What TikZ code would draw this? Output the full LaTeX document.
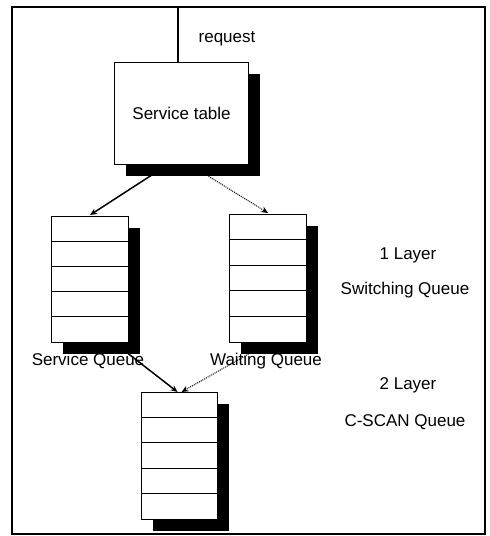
\documentclass[tikz,border=0pt]{standalone}
\usepackage{fontspec}
\setmainfont{Liberation Sans}
\usetikzlibrary{arrows.meta,shadows}
\begin{document}
\begin{tikzpicture}[x=1pt,y=-1pt,
  lbl/.style={font=\fontsize{17}{20}\selectfont, inner sep=0pt},
  box/.style={draw, fill=white, line width=1.1pt, inner sep=0pt, anchor=north west,
    font=\fontsize{17}{20}\selectfont,
    drop shadow={opacity=1, fill=black, shadow xshift=11.5pt, shadow yshift=-11.5pt}},
  conn/.style={line width=1.5pt, -{Stealth[length=7pt,width=6pt]}},
  dconn/.style={line width=1pt, densely dotted, -{Stealth[length=7pt,width=6pt]}},
  row/.style={line width=1.1pt}]
\useasboundingbox (0,0) rectangle (490,536);
% frame
\draw[line width=2pt] (12,7) rectangle (485,534);
% service table
\node[box, minimum width=134pt, minimum height=102pt] (st) at (114,62) {Service table};
\coordinate (rq) at (178,7);
\draw[line width=1.1pt] (rq) -- (rq |- st.north);
\node[lbl] (req) at (227,39) {request};
% queues
\node[box, minimum width=77pt, minimum height=126pt] (sq) at (51,216) {};
\node[box, minimum width=77pt, minimum height=128pt] (wq) at (229,214) {};
\node[box, minimum width=76pt, minimum height=127pt] (cq) at (141,392) {};
\foreach \q/\h in {sq/25.2, wq/25.6, cq/25.4}{
  \foreach \i in {1,...,4}{
    \draw[row] ([yshift=-\i*\h pt]\q.north west) -- ([yshift=-\i*\h pt]\q.north east);
  }
}
% labels
\node[lbl] (sql) at (88,361) {Service Queue};
\node[lbl] (wql) at (266,361) {Waiting Queue};
\node[lbl] (l1) at (408,255) {1 Layer};
\node[lbl] (l1b) at (405,290) {Switching Queue};
\node[lbl] (l2) at (408,385) {2 Layer};
\node[lbl] (l2b) at (405,422) {C-SCAN Queue};
% connectors
\coordinate (a1) at (158,171);
\coordinate (a2) at (200,171);
\coordinate (b1) at (121,348);
\coordinate (b2) at (252,352);
\draw[conn] (a1) -- ([yshift=1pt]sq.north);
\draw[dconn] (a2) -- ([yshift=1pt]wq.north);
\draw[conn] (b1) -- ([xshift=-2pt]cq.north);
\draw[dconn] (b2) -- ([xshift=2pt]cq.north);
\end{tikzpicture}
\end{document}
